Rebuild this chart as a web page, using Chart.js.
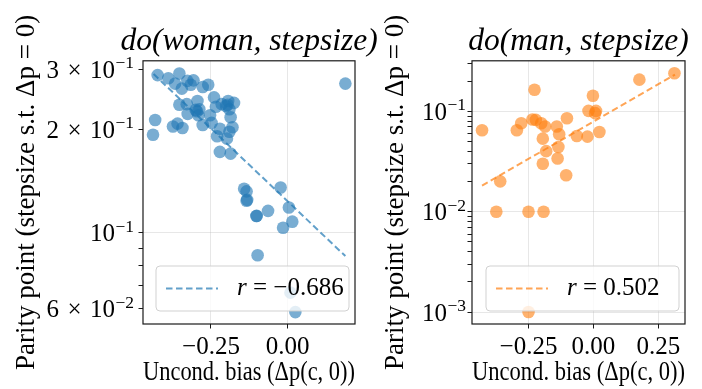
<!DOCTYPE html>
<html>
<head>
<meta charset="utf-8">
<script src="https://cdn.jsdelivr.net/npm/chart.js@4"></script>
<style>
  html, body { margin: 0; padding: 0; background: #fff; }
  #wrap { position: relative; width: 702px; height: 389px; overflow: hidden; }
  canvas { position: absolute; top: 0; }
  #left { left: 0; }
  #right { left: 362px; }
</style>
</head>
<body>
<div id="wrap">
  <canvas id="left" width="400" height="389"></canvas>
  <canvas id="right" width="340" height="389"></canvas>
</div>
<script>
// do(woman, stepsize) の散布点
const womanBias = [
  -0.424, -0.389, -0.353, -0.367, -0.345, -0.327, -0.307, -0.316, -0.277, -0.259,
  -0.240, -0.294, -0.353, -0.329, -0.296, -0.326, -0.288, -0.291, -0.253, -0.248,
  -0.234, -0.215, -0.201, -0.194, -0.175, -0.190, -0.186, -0.180, -0.190, -0.221,
  -0.230, -0.198, -0.277, -0.374, -0.359, -0.343, -0.432, -0.439, -0.221, -0.186,
  -0.142, -0.134, -0.132, -0.134, -0.102, -0.064, -0.023, 0.004, 0.015, -0.015,
  -0.098, 0.009, 0.025, 0.188, -0.101, -0.300, -0.196
];
const womanParity = [
  0.288, 0.282, 0.291, 0.272, 0.263, 0.277, 0.278, 0.270, 0.266, 0.270,
  0.248, 0.242, 0.236, 0.237, 0.226, 0.222, 0.229, 0.220, 0.220, 0.209,
  0.233, 0.237, 0.234, 0.242, 0.239, 0.229, 0.217, 0.203, 0.197, 0.201,
  0.191, 0.188, 0.206, 0.204, 0.208, 0.202, 0.213, 0.193, 0.172, 0.170,
  0.1343, 0.132, 0.1247, 0.124, 0.1119, 0.1158, 0.1355, 0.1184, 0.1077, 0.1034,
  0.0860, 0.0669, 0.0587, 0.272, 0.112, 0.228, 0.236
];
const womanFitX = [-0.437, 0.188];
const womanFitY = [0.290, 0.0855];
const womanR = 'r = −0.686';

// do(man, stepsize) の散布点
const manBias = [
  -0.429, -0.359, -0.374, -0.250, -0.192, -0.250, -0.295, -0.278, -0.227, -0.235,
  -0.222, -0.201, -0.186, -0.195, -0.182, -0.195, -0.141, -0.132, -0.135, -0.138,
  -0.102, -0.105, -0.064, -0.023, -0.019, -0.002, 0.010, 0.0065, 0.023, 0.177, 0.312
];
const manParity = [
  0.0649, 0.0201, 0.0100, 0.0100, 0.0100, 0.0010, 0.0649, 0.0764, 0.1646, 0.0832,
  0.0825, 0.0764, 0.0707, 0.0536, 0.0402, 0.0301, 0.0707, 0.0592, 0.0442, 0.0340,
  0.0857, 0.0231, 0.0569, 0.0561, 0.1014, 0.1434, 0.1014, 0.0962, 0.0624, 0.2075, 0.2405
];
const manFitX = [-0.429, 0.314];
const manFitY = [0.0182, 0.233];
const manR = 'r = 0.502';

// 軸の範囲と目盛
const womanXRange = [-0.4716, 0.2194];
const womanYRange = [0.0542, 0.317];
const manXRange = [-0.4677, 0.3527];
const manYRange = [0.00076, 0.32];

const womanXTicks = [-0.25, 0];
const womanXLabels = ['−0.25', '0.00'];
const manXTicks = [-0.25, 0, 0.25];
const manXLabels = ['−0.25', '0.00', '0.25'];

// y 目盛: 仮数部と指数部を分けて持つ（空文字は補助目盛）
const womanYTicks = [0.06, 0.07, 0.08, 0.09, 0.1, 0.2, 0.3];
const womanYBase = ['6\u2004×\u200410', '', '', '', '10', '2\u2004×\u200410', '3\u2004×\u200410'];
const womanYExp = ['−2', '', '', '', '−1', '−1', '−1'];
const womanYMajor = [0.1];

const manYTicks = [
  0.001, 0.002, 0.003, 0.004, 0.005, 0.006, 0.007, 0.008, 0.009,
  0.01, 0.02, 0.03, 0.04, 0.05, 0.06, 0.07, 0.08, 0.09,
  0.1, 0.2, 0.3
];
const manYBase = [
  '10', '', '', '', '', '', '', '', '',
  '10', '', '', '', '', '', '', '', '',
  '10', '', ''
];
const manYExp = [
  '−3', '', '', '', '', '', '', '', '',
  '−2', '', '', '', '', '', '', '', '',
  '−1', '', ''
];
const manYMajor = [0.001, 0.01, 0.1];

const FONT = "'Liberation Serif', 'DejaVu Serif', serif";
const GRID = 'rgba(176,176,176,0.3)';
const X_TITLE = 'Uncond. bias (Δp(c, 0))';
const Y_TITLE = 'Parity point (stepsize s.t. Δp = 0)';

function pts(xs, ys) {
  return xs.map((x, i) => ({ x: x, y: ys[i] }));
}

// タイトルをプロット領域の中央に寄せる
const titleCenterPlugin = {
  id: 'titleCenter',
  afterLayout(chart) {
    const t = chart.titleBlock;
    const a = chart.chartArea;
    if (!t) return;
    const mid = (a.left + a.right) / 2;
    t.left = mid - 200;
    t.right = mid + 200;
  }
};

// 枠線（4辺）
const framePlugin = {
  id: 'frame',
  afterDatasetsDraw(chart) {
    const a = chart.chartArea;
    const ctx = chart.ctx;
    ctx.save();
    ctx.strokeStyle = '#1a1a1a';
    ctx.lineWidth = 1.2;
    ctx.strokeRect(a.left, a.top, a.right - a.left, a.bottom - a.top);
    ctx.restore();
  }
};

// y 目盛ラベル（10 の右肩に指数を描く）
const mathTicksPlugin = {
  id: 'mathTicks',
  afterDraw(chart, args, opts) {
    const s = chart.scales.y;
    const ctx = chart.ctx;
    ctx.save();
    ctx.fillStyle = '#000';
    ctx.textBaseline = 'alphabetic';
    ctx.textAlign = 'right';
    s.ticks.forEach((t, i) => {
      const base = opts.base[i];
      if (!base) return;
      const y = s.getPixelForValue(t.value);
      const right = s.right - opts.gap;
      ctx.font = '17.5px ' + FONT;
      const ew = ctx.measureText(opts.exp[i]).width;
      ctx.fillText(opts.exp[i], right, y - 1);
      ctx.font = '25px ' + FONT;
      ctx.fillText(base, right - ew - 0.5, y + 8.5);
    });
    ctx.restore();
  }
};

// 右下の凡例（回帰線の r）
const rLegendPlugin = {
  id: 'rLegend',
  afterDraw(chart) {
    const a = chart.chartArea;
    const ctx = chart.ctx;
    const ds = chart.data.datasets[0];
    const w = 193, h = 45;
    const x = a.right - 6 - w;
    const y = a.bottom - 13 - h;
    ctx.save();
    ctx.beginPath();
    ctx.roundRect(x, y, w, h, 4);
    ctx.fillStyle = 'rgba(255,255,255,0.8)';
    ctx.fill();
    ctx.strokeStyle = 'rgba(204,204,204,0.9)';
    ctx.lineWidth = 1;
    ctx.stroke();

    const cy = y + h / 2;
    ctx.strokeStyle = ds.borderColor;
    ctx.lineWidth = ds.borderWidth;
    ctx.setLineDash(ds.borderDash);
    ctx.beginPath();
    ctx.moveTo(x + 10, cy);
    ctx.lineTo(x + 62, cy);
    ctx.stroke();
    ctx.setLineDash([]);

    ctx.fillStyle = '#000';
    ctx.textBaseline = 'middle';
    ctx.font = 'italic 25px ' + FONT;
    ctx.fillText(ds.label.slice(0, 1), x + 81, cy);
    const tx = x + 81 + ctx.measureText(ds.label.slice(0, 1)).width;
    ctx.font = '25px ' + FONT;
    ctx.fillText(ds.label.slice(1), tx, cy);
    ctx.restore();
  }
};

function makeChart(id, c) {
  const tickFont = { family: FONT, size: 25 };
  const labelFont = { family: FONT, size: 27 };
  return new Chart(document.getElementById(id), {
    type: 'scatter',
    data: {
      datasets: [
        {
          label: c.legend,
          data: pts(c.fitX, c.fitY),
          showLine: true,
          borderColor: c.lineColor,
          borderWidth: 2,
          borderDash: [6.5, 3.5],
          pointRadius: 0,
          fill: false
        },
        {
          label: 'points',
          data: pts(c.xs, c.ys),
          backgroundColor: c.pointColor,
          borderWidth: 0,
          pointRadius: 6.3,
          pointHoverRadius: 6.3
        }
      ]
    },
    options: {
      responsive: false,
      animation: false,
      events: [],
      layout: { padding: { left: 0, right: c.padRight, top: 0, bottom: 0 } },
      plugins: {
        legend: { display: false },
        tooltip: { enabled: false },
        title: {
          display: true,
          text: c.title,
          color: '#000',
          font: { family: FONT, size: 31.5, style: 'italic', weight: 'normal' },
          padding: { top: 23, bottom: 0 }
        },
        mathTicks: { base: c.yBase, exp: c.yExp, gap: c.tickGap }
      },
      scales: {
        x: {
          type: 'linear',
          min: c.xRange[0],
          max: c.xRange[1],
          afterFit: s => { s.height = 65; },
          afterBuildTicks: s => { s.ticks = c.xTicks.map(v => ({ value: v })); },
          ticks: {
            callback: (v, i) => c.xLabels[i],
            font: tickFont,
            color: '#000',
            padding: 4,
            maxRotation: 0,
            autoSkip: false
          },
          grid: { color: GRID, tickColor: '#1a1a1a', tickLength: 4.5 },
          border: { display: false },
          title: { display: true, text: X_TITLE, font: labelFont, color: '#000', padding: { top: 0, bottom: 0 } }
        },
        y: {
          type: 'logarithmic',
          min: c.yRange[0],
          max: c.yRange[1],
          afterFit: s => { s.width = c.yWidth; },
          afterBuildTicks: s => { s.ticks = c.yTicks.map(v => ({ value: v })); },
          ticks: {
            callback: () => '',
            font: tickFont,
            autoSkip: false
          },
          grid: {
            color: ctx => (ctx.tick && c.yMajor.includes(ctx.tick.value)) ? GRID : 'rgba(0,0,0,0)',
            tickColor: '#1a1a1a',
            tickLength: 4.5
          },
          border: { display: false },
          title: { display: true, text: Y_TITLE, font: labelFont, color: '#000', padding: { top: c.yTitlePad, bottom: 0 } }
        }
      }
    },
    plugins: [titleCenterPlugin, framePlugin, mathTicksPlugin, rLegendPlugin]
  });
}

makeChart('left', {
  title: 'do(woman, stepsize)',
  xs: womanBias, ys: womanParity,
  fitX: womanFitX, fitY: womanFitY,
  legend: womanR,
  pointColor: 'rgba(31,119,180,0.6)',
  lineColor: 'rgba(31,119,180,0.7)',
  xRange: womanXRange, yRange: womanYRange,
  xTicks: womanXTicks, xLabels: womanXLabels,
  yTicks: womanYTicks, yBase: womanYBase, yExp: womanYExp, yMajor: womanYMajor,
  yWidth: 143, padRight: 45, yTitlePad: 11, tickGap: 9
});

makeChart('right', {
  title: 'do(man, stepsize)',
  xs: manBias, ys: manParity,
  fitX: manFitX, fitY: manFitY,
  legend: manR,
  pointColor: 'rgba(255,127,14,0.6)',
  lineColor: 'rgba(255,127,14,0.7)',
  xRange: manXRange, yRange: manYRange,
  xTicks: manXTicks, xLabels: manXLabels,
  yTicks: manYTicks, yBase: manYBase, yExp: manYExp, yMajor: manYMajor,
  yWidth: 110, padRight: 17, yTitlePad: 18, tickGap: 6
});
</script>
</body>
</html>
